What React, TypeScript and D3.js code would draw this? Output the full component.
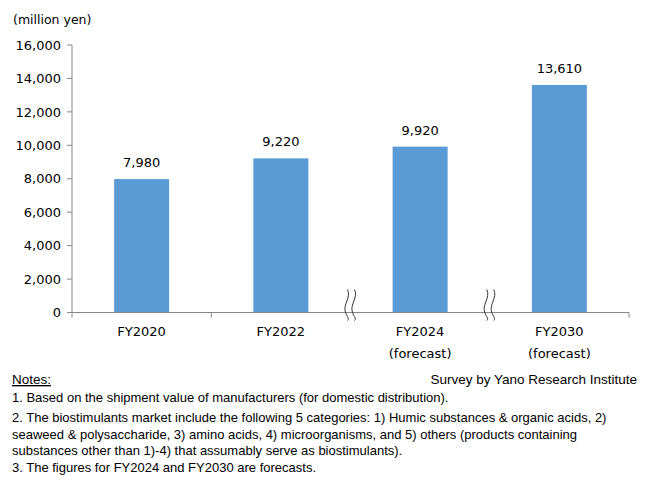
import React from "react";
import * as d3 from "d3";

const categories = ["FY2020", "FY2022", "FY2024", "FY2030"];
const subLabels = ["", "", "(forecast)", "(forecast)"];
const values = [7980, 9220, 9920, 13610];
const yTicks = [0, 2000, 4000, 6000, 8000, 10000, 12000, 14000, 16000];
const breakAfter = [1, 2]; // break marks after these category indices
const unitLabel = "(million yen)";
const sourceLabel = "Survey by Yano Research Institute";
const notesTitle = "Notes:";
const notes = [
  "1. Based on the shipment value of manufacturers (for domestic distribution).",
  "2. The biostimulants market include the following 5 categories: 1) Humic substances & organic acids, 2)",
  "seaweed & polysaccharide, 3) amino acids, 4) microorganisms, and 5) others (products containing",
  "substances other than 1)-4) that assumably serve as biostimulants).",
  "3. The figures for FY2024 and FY2030 are forecasts.",
];

const W = 645;
const H = 488;
const left = 72;
const right = 629;
const top = 45;
const bottom = 312.5;

export default function App() {
  const x = d3.scaleBand<string>().domain(categories).range([left, right]).paddingInner(0).paddingOuter(0);
  const y = d3.scaleLinear().domain([0, 16000]).range([bottom, top]);
  const bw = x.bandwidth() * 0.395;
  const fmt = d3.format(",");
  const axisColor = "#868686";
  const font = "'DejaVu Sans', Verdana, sans-serif";
  const noteFont = "'Liberation Sans', Arial, sans-serif";
  const boundaries = d3.range(categories.length + 1).map((i) => left + i * x.bandwidth());
  const noteY = [398, 418, 435, 451, 468];

  const wiggle = (cx: number) => {
    const p = d3.path();
    p.moveTo(cx + 1, bottom - 23);
    p.bezierCurveTo(cx + 5, bottom - 15, cx - 4, bottom - 8, cx - 1, bottom);
    p.bezierCurveTo(cx + 1, bottom + 5, cx + 3, bottom + 6, cx + 1, bottom + 8);
    return p.toString();
  };

  return (
    <svg width={W} height={H} style={{ position: "absolute", left: 0, top: 0, background: "#fff" }}>
      <rect x={0} y={0} width={W} height={H} fill="#fff" />
      <text x={13} y={24} fontFamily={font} fontSize={12.5} fill="#000">{unitLabel}</text>
      {/* y axis */}
      <line x1={left} x2={left} y1={top} y2={bottom} stroke={axisColor} strokeWidth={1} />
      {yTicks.map((t) => (
        <g key={t}>
          <line x1={left - 5} x2={left} y1={y(t)} y2={y(t)} stroke={axisColor} />
          <text x={61} y={y(t)} dy="0.36em" textAnchor="end" fontFamily={font} fontSize={13} fill="#000">
            {fmt(t)}
          </text>
        </g>
      ))}
      {/* bars */}
      {categories.map((c, i) => {
        const cx = (x(c) as number) + x.bandwidth() / 2;
        return (
          <g key={c}>
            <rect x={cx - bw / 2} y={y(values[i])} width={bw} height={bottom - y(values[i])} fill="#5B9BD5" />
            <text x={cx} y={y(values[i]) - 12} textAnchor="middle" fontFamily={font} fontSize={13} fill="#000">
              {fmt(values[i])}
            </text>
            <text x={cx} y={336} textAnchor="middle" fontFamily={font} fontSize={13} fill="#000">{c}</text>
            {subLabels[i] && (
              <text x={cx} y={358} textAnchor="middle" fontFamily={font} fontSize={13} fill="#000">{subLabels[i]}</text>
            )}
          </g>
        );
      })}
      {/* x axis */}
      <line x1={left} x2={right} y1={bottom} y2={bottom} stroke={axisColor} strokeWidth={1} />
      {boundaries.map((b, i) => (
        <line key={i} x1={b} x2={b} y1={bottom} y2={bottom + 5} stroke={axisColor} />
      ))}
      {breakAfter.map((i) => {
        const b = boundaries[i + 1];
        return (
          <g key={i}>
            <rect x={b - 4} y={bottom - 23} width={7} height={32} fill="#fff" />
            <line x1={b - 5} x2={b + 4} y1={bottom} y2={bottom} stroke={axisColor} />
            <path d={wiggle(b - 4)} fill="none" stroke="#333" strokeWidth={1} />
            <path d={wiggle(b + 3)} fill="none" stroke="#333" strokeWidth={1} />
          </g>
        );
      })}
      {/* notes */}
      <text x={12} y={384} fontFamily={noteFont} fontSize={13.5} fill="#000" textDecoration="underline">{notesTitle}</text>
      <text x={637} y={384} textAnchor="end" fontFamily={noteFont} fontSize={13.5} fill="#000">{sourceLabel}</text>
      {notes.map((n, i) => (
        <text key={i} x={12} y={noteY[i] + 4} fontFamily={noteFont} fontSize={13} fill="#000">{n}</text>
      ))}
    </svg>
  );
}
